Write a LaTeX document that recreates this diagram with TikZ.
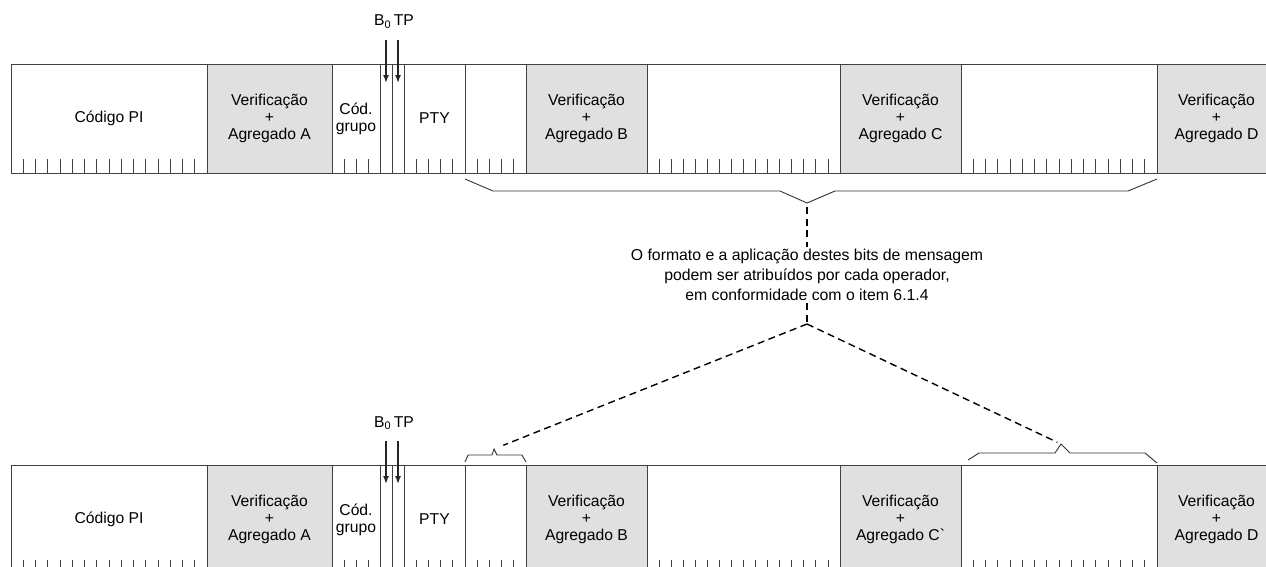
\documentclass[tikz,border=0pt]{standalone}
\usepackage{fontspec}
\setmainfont{Liberation Sans}
\usetikzlibrary{positioning,calc,arrows.meta}
\tikzset{
    fieldnode/.style = {
        align=center,
        rectangle,
        draw=black!75,
        line width=0.8pt,
        minimum height=109pt,
        inner sep=0pt,
        outer sep=0pt,
        font=\fontsize{15.7}{17}\selectfont
    },
    checknode/.style = {
        fieldnode,
        fill=black!12
    },
    bittick/.style = {
        draw=black!75,
        line width=0.8pt
    },
    bitarrow/.style = {
        draw=black!85,
        line width=1.5pt,
        -{Latex[length=8pt,width=6pt]}
    },
    bitlabel/.style = {
        inner sep=0pt,
        font=\fontsize{15.7}{17}\selectfont
    },
    bracket/.style = {
        draw=black!80,
        line width=0.9pt
    },
    dashline/.style = {
        draw=black,
        line width=1.4pt,
        dash pattern=on 7pt off 4.5pt
    },
    notenode/.style = {
        align=center,
        inner sep=2pt,
        font=\fontsize{15.8}{20}\selectfont
    }
}
\begin{document}
\begin{tikzpicture}[x=1pt, y=-1pt]
    \clip (0,0) rectangle (1266,566);
    \fill[white] (0,0) rectangle (1266,566);
    % the two blocks of the group
    \foreach \r/\top/\cname in {1/64/C, 2/465/C\textasciigrave} {
        \node [fieldnode, minimum width=196pt, anchor=north west] (pi\r) at (11,\top) {Código PI};
        \node [checknode, minimum width=125pt, right=0pt of pi\r] (ckA\r) {Verificação\\+\\Agregado A};
        \node [fieldnode, minimum width=48pt, right=0pt of ckA\r] (grp\r) {Cód.\\grupo};
        \node [fieldnode, minimum width=12pt, right=0pt of grp\r] (bzero\r) {};
        \node [fieldnode, minimum width=12pt, right=0pt of bzero\r] (tp\r) {};
        \node [fieldnode, minimum width=61pt, right=0pt of tp\r] (pty\r) {PTY};
        \node [fieldnode, minimum width=61pt, right=0pt of pty\r] (msgA\r) {};
        \node [checknode, minimum width=121pt, right=0pt of msgA\r] (ckB\r) {Verificação\\+\\Agregado B};
        \node [fieldnode, minimum width=193pt, right=0pt of ckB\r] (msgB\r) {};
        \node [checknode, minimum width=121pt, right=0pt of msgB\r] (ckC\r) {Verificação\\+\\Agregado \cname};
        \node [fieldnode, minimum width=196pt, right=0pt of ckC\r] (msgC\r) {};
        \node [checknode, minimum width=119pt, right=0pt of msgC\r] (ckD\r) {Verificação\\+\\Agregado D};
        % bit marks
        \foreach \f/\n in {pi/16, grp/4, pty/5, msgA/5, msgB/16, msgC/16} {
            \pgfmathtruncatemacro{\m}{\n-1}
            \foreach \k in {1,...,\m}
                \draw [bittick] ($(\f\r.south west)!\k/\n!(\f\r.south east)$) -- ++(0,-14);
        }
        % B0 and TP flags
        \node [bitlabel] (bitlbl\r) at ($(tp\r.north west)+(2,-42)$) {B\textsubscript{0}\,TP};
        \coordinate (bztop\r) at ($(bzero\r.north)+(0,-24)$);
        \coordinate (bzend\r) at ($(bzero\r.north)+(0,19)$);
        \coordinate (tptop\r) at ($(tp\r.north)+(0,-24)$);
        \coordinate (tpend\r) at ($(tp\r.north)+(0,19)$);
        \draw [bitarrow] (bztop\r) -- (bzend\r);
        \draw [bitarrow] (tptop\r) -- (tpend\r);
    }
    % brackets
    \coordinate (topbrace) at (807,203);
    \draw [bracket] ($(msgA1.south west)+(0,6)$) -- (493,191) -- (780,191) -- (topbrace)
        -- (835,191) -- (1128,191) -- ($(msgC1.south east)+(0,6)$);
    \coordinate (lbrace) at (494,449);
    \draw [bracket] ($(msgA2.north west)+(0,-3)$) -- (468,455) -- (492,455) -- (lbrace)
        -- (497,455) -- (522,455) -- ($(msgA2.north east)+(0,-3)$);
    \coordinate (rbrace) at (1061,444);
    \draw [bracket] (968,460) -- (979,453) -- (1055,453) -- (rbrace)
        -- (1070,453) -- (1145,453) -- ($(msgC2.north east)+(0,-2)$);
    % note
    \node [notenode] (note) at (807,275) {O formato e a aplicação destes bits de mensagem\\podem ser atribuídos por cada operador,\\em conformidade com o item 6.1.4};
    \coordinate (fork) at (807,324);
    \draw [dashline, shorten <=4pt] (topbrace) -- (note.north);
    \draw [dashline] (note.south) -- (fork);
    \draw [dashline, shorten >=10pt] (fork) -- (lbrace);
    \draw [dashline, shorten >=4pt] (fork) -- (rbrace);
\end{tikzpicture}
\end{document}
